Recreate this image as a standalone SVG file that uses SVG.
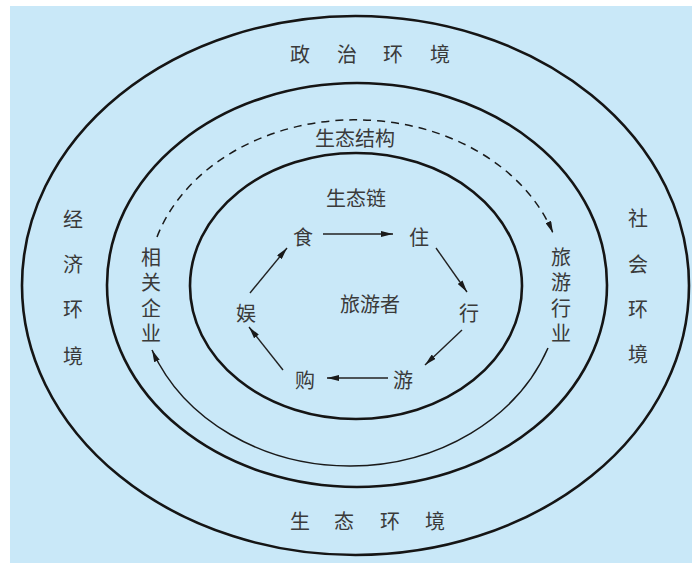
<svg xmlns="http://www.w3.org/2000/svg" width="692" height="563" viewBox="0 0 692 563">
  <style>
    .ring { fill: none; stroke: #151515; stroke-width: 2.6; }
    .lbl { font-family: "Noto Sans CJK SC", "Noto Sans", sans-serif; font-size: 20px; fill: #3a3a3a; text-anchor: middle; dominant-baseline: central; }
    .vert { writing-mode: vertical-rl; letter-spacing: 5.5px; }
    .arr { fill: none; stroke: #222; stroke-width: 1.4; marker-end: url(#ah); }
    .flow { fill: none; stroke: #1a1a1a; stroke-width: 1.5; marker-end: url(#ah); }
    .dash { stroke-dasharray: 8 6; }
  </style>
  <defs>
    <marker id="ah" viewBox="0 0 12 6" refX="12" refY="3" markerWidth="12" markerHeight="6" markerUnits="userSpaceOnUse" orient="auto">
      <path d="M0,0 L12,3 L0,6 z" fill="#1a1a1a"/>
    </marker>
  </defs>
  <rect x="0" y="0" width="692" height="563" fill="#ffffff"/>
  <rect x="10" y="6" width="682" height="557" fill="#c9e8f8"/>

  <g id="rings">
    <ellipse id="ring-outer" class="ring" cx="355.5" cy="285.5" rx="333.5" ry="269.5"/>
    <ellipse id="ring-middle" class="ring" cx="357" cy="285" rx="250" ry="202"/>
    <ellipse id="ring-inner" class="ring" cx="356" cy="286" rx="166" ry="133"/>
  </g>

  <g id="connectors">
    <path class="flow dash" d="M157,237 A208,166 0 0 1 553,233"/>
    <path class="flow" d="M548,348 A212,182 0 0 1 152,350"/>
    <line class="arr" x1="323" y1="234" x2="393" y2="234"/>
    <line class="arr" x1="436" y1="248" x2="467" y2="292"/>
    <line class="arr" x1="462" y1="330" x2="425" y2="365"/>
    <line class="arr" x1="388" y1="378" x2="327" y2="378"/>
    <line class="arr" x1="283" y1="370" x2="249" y2="327"/>
    <line class="arr" x1="250" y1="293" x2="287" y2="248"/>
  </g>

  <g id="politics">
    <text class="lbl" x="300" y="53">政</text>
    <text class="lbl" x="347" y="53">治</text>
    <text class="lbl" x="393" y="53">环</text>
    <text class="lbl" x="440" y="53">境</text>
  </g>
  <g id="ecology-env">
    <text class="lbl" x="300" y="520">生</text>
    <text class="lbl" x="344" y="520">态</text>
    <text class="lbl" x="390" y="520">环</text>
    <text class="lbl" x="435" y="520">境</text>
  </g>
  <g id="economy">
    <text class="lbl" x="73" y="218">经</text>
    <text class="lbl" x="73" y="263">济</text>
    <text class="lbl" x="73" y="308">环</text>
    <text class="lbl" x="73" y="355">境</text>
  </g>
  <g id="society">
    <text class="lbl" x="638" y="217">社</text>
    <text class="lbl" x="638" y="263">会</text>
    <text class="lbl" x="638" y="308">环</text>
    <text class="lbl" x="638" y="353">境</text>
  </g>
  <g id="related-enterprises">
    <text class="lbl vert" x="151" y="298">相关企业</text>
  </g>
  <g id="tourism-industry">
    <text class="lbl vert" x="561" y="298">旅游行业</text>
  </g>
  <g id="eco-structure"><text class="lbl" x="355" y="137">生态结构</text></g>
  <g id="eco-chain"><text class="lbl" x="356" y="197">生态链</text></g>
  <g id="tourist"><text class="lbl" x="370" y="303">旅游者</text></g>
  <g id="food"><text class="lbl" x="303" y="236">食</text></g>
  <g id="stay"><text class="lbl" x="419" y="236">住</text></g>
  <g id="travel"><text class="lbl" x="469" y="312">行</text></g>
  <g id="tour"><text class="lbl" x="403" y="379">游</text></g>
  <g id="shop"><text class="lbl" x="305" y="379">购</text></g>
  <g id="fun"><text class="lbl" x="246" y="312">娱</text></g>
</svg>
